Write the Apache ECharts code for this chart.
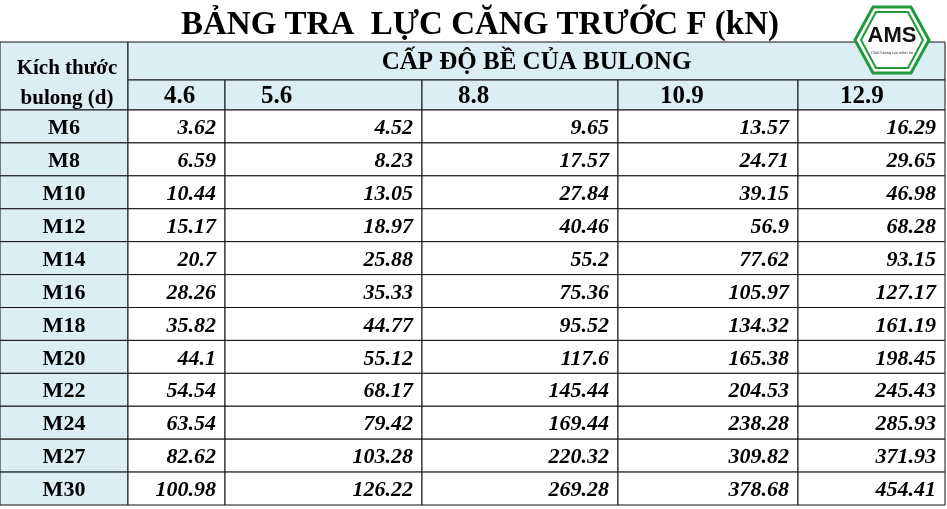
<!DOCTYPE html>
<html><head><meta charset="utf-8">
<script src="https://cdn.jsdelivr.net/npm/echarts@6/dist/echarts.min.js"></script>
<style>html,body{margin:0;padding:0;background:#fff}#c{width:947px;height:509px}</style>
</head><body><div id="c"></div>
<script>
const title = 'BẢNG TRA  LỰC CĂNG TRƯỚC F (kN)';
const groupHeader = 'CẤP ĐỘ BỀ CỦA BULONG';
const rowHeader = 'Kích thước\nbulong (d)';
const grades = ['4.6','5.6','8.8','10.9','12.9'];
const sizes = ['M6','M8','M10','M12','M14','M16','M18','M20','M22','M24','M27','M30'];
const g46 = ['3.62','6.59','10.44','15.17','20.7','28.26','35.82','44.1','54.54','63.54','82.62','100.98'];
const g56 = ['4.52','8.23','13.05','18.97','25.88','35.33','44.77','55.12','68.17','79.42','103.28','126.22'];
const g88 = ['9.65','17.57','27.84','40.46','55.2','75.36','95.52','117.6','145.44','169.44','220.32','269.28'];
const g109 = ['13.57','24.71','39.15','56.9','77.62','105.97','134.32','165.38','204.53','238.28','309.82','378.68'];
const g129 = ['16.29','29.65','46.98','68.28','93.15','127.17','161.19','198.45','245.43','285.93','371.93','454.41'];
const values = [g46,g56,g88,g109,g129];

const colEdges = [0,128,225,422,618,798,945];
const rowTop = 42, h1 = 80, h2 = 110, bottom = 505;
const rowH = (bottom - h2) / sizes.length;
const blue = '#daeef3';
const font = '"Liberation Serif", "DejaVu Serif", serif';

const cells = [];
cells.push([colEdges[0], colEdges[1], rowTop, h2, rowHeader, 'rowhead']);
cells.push([colEdges[1], colEdges[6], rowTop, h1, groupHeader, 'group']);
grades.forEach((g,i)=>cells.push([colEdges[i+1], colEdges[i+2], h1, h2, g, 'grade']));
sizes.forEach((s,r)=>{
  const y0 = h2 + r*rowH, y1 = y0 + rowH;
  cells.push([colEdges[0], colEdges[1], y0, y1, s, 'size']);
  values.forEach((col,i)=>cells.push([colEdges[i+1], colEdges[i+2], y0, y1, col[r], 'val']));
});

const chart = echarts.init(document.getElementById('c'));
chart.setOption({
  animation:false,
  title:{text:title,left:475,top:4,textAlign:'center',textStyle:{fontFamily:font,fontSize:33,fontWeight:'bold',color:'#000'}},
  grid:{left:0,right:0,top:0,bottom:0},
  xAxis:{type:'value',min:0,max:947,show:false},
  yAxis:{type:'value',min:0,max:509,inverse:true,show:false},
  series:[{
    type:'custom',
    data:cells,
    renderItem:(params,api)=>{
      const d = cells[params.dataIndex];
      const p0 = api.coord([d[0],d[2]]), p1 = api.coord([d[1],d[3]]);
      const kind = d[5];
      const fill = kind==='val' ? '#fff' : blue;
      let tx, align, style;
      if (kind==='val'){ tx=p1[0]-9; align='right'; style={fontStyle:'italic',fontWeight:'bold',fontSize:22}; }
      else if (kind==='grade'){ tx=p0[0]+(d[4].length>3?42:36); align='left'; style={fontWeight:'bold',fontSize:25}; }
      else if (kind==='group'){ tx=(p0[0]+p1[0])/2; align='center'; style={fontWeight:'bold',fontSize:25}; }
      else if (kind==='rowhead'){ tx=(p0[0]+p1[0])/2+3; align='center'; style={fontWeight:'bold',fontSize:21,lineHeight:30}; }
      else { tx=(p0[0]+p1[0])/2; align='center'; style={fontWeight:'bold',fontSize:22}; }
      const ty = kind==='rowhead' ? (p0[1]+p1[1])/2+8 : (p0[1]+p1[1])/2+2;
      return {type:'group',children:[
        {type:'rect',shape:{x:p0[0],y:p0[1],width:p1[0]-p0[0],height:p1[1]-p0[1]},
         style:{fill:fill,stroke:'#111',lineWidth:1}},
        {type:'text',style:Object.assign({x:tx,y:ty,text:d[4],align:align,verticalAlign:'middle',
          fontFamily:font,fill:'#000'},style)}
      ]};
    }
  }],
  graphic:[
    {type:'polygon',z:100,shape:{points:[[855,40],[873,7],[911,7],[929,40],[911,73],[873,73]]},style:{fill:'#fff',stroke:'#1f9a3c',lineWidth:3}},
    {type:'polygon',z:100,shape:{points:[[861,40],[876,12],[908,12],[923,40],[908,68],[876,68]]},style:{fill:'#fff',stroke:'#1f9a3c',lineWidth:2}},
    {type:'text',z:101,style:{x:892,y:36,text:'AMS',align:'center',verticalAlign:'middle',fontFamily:'"Liberation Sans", sans-serif',fontWeight:'bold',fontSize:22,fill:'#111'}},
    {type:'text',z:101,style:{x:892,y:53,text:'Chất lượng tạo niềm tin',align:'center',verticalAlign:'middle',fontFamily:'"Liberation Sans", sans-serif',fontSize:4,fill:'#333'}}
  ]
});
</script></body></html>
